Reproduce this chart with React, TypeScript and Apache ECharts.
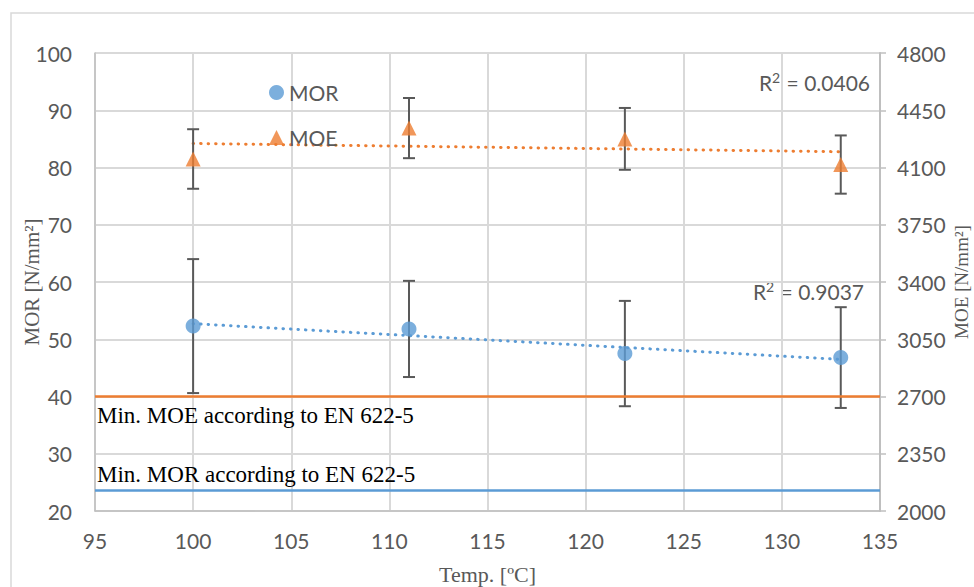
import React, { useEffect, useRef } from "react";
import * as echarts from "echarts";

const TEMPS = [100, 111, 122, 133];
const MOR = [52.3, 51.8, 47.5, 46.8];
const MOR_ERR = [11.7, 8.4, 9.2, 8.8];
const MOE = [4152, 4341, 4275, 4118];
const MOE_ERR = [182, 184, 189, 178];
const MIN_MOR = 23.7;
const MIN_MOE = 2700;
const R2_MOR = "0.9037";
const R2_MOE = "0.0406";

const BLUE = "#5b9bd5";
const ORANGE = "#ed7d31";
const GRAY = "#595959";
const GRID = "#d9d9d9";
const SANS = "Lato";
const SERIF = "Liberation Serif";

function fit(xs: number[], ys: number[]) {
  const n = xs.length;
  const mx = xs.reduce((a, b) => a + b, 0) / n;
  const my = ys.reduce((a, b) => a + b, 0) / n;
  let sxy = 0, sxx = 0;
  for (let i = 0; i < n; i++) {
    sxy += (xs[i] - mx) * (ys[i] - my);
    sxx += (xs[i] - mx) * (xs[i] - mx);
  }
  const b = sxy / sxx;
  const a = my - b * mx;
  const x0 = xs[0], x1 = xs[n - 1];
  return [[x0, a + b * x0], [x1, a + b * x1]];
}

function errRender(params: any, api: any) {
  const x = api.value(0);
  const lo = api.value(1);
  const hi = api.value(2);
  const p1 = api.coord([x, hi]);
  const p2 = api.coord([x, lo]);
  const w = 6;
  const st = { stroke: GRAY, lineWidth: 2 };
  return {
    type: "group",
    children: [
      { type: "line", shape: { x1: p1[0], y1: p1[1], x2: p2[0], y2: p2[1] }, style: st },
      { type: "line", shape: { x1: p1[0] - w, y1: p1[1], x2: p1[0] + w, y2: p1[1] }, style: st },
      { type: "line", shape: { x1: p2[0] - w, y1: p2[1], x2: p2[0] + w, y2: p2[1] }, style: st },
    ],
  };
}

function r2Text(value: string, right: number, top: number) {
  return {
    type: "text",
    right,
    top,
    style: {
      text: `R{sup|2} = ${value}`,
      fill: GRAY,
      font: `21px ${SANS}`,
      lineHeight: 24,
      rich: {
        sup: { fontSize: 14, fontFamily: SANS, fill: GRAY, verticalAlign: "top", lineHeight: 24, padding: [0, 1, 8, 0] },
      },
    },
  };
}

export default function App() {
  const ref = useRef<HTMLDivElement>(null);
  useEffect(() => {
    if (!ref.current) return;
    const chart = echarts.init(ref.current, null, { renderer: "svg" });
    const morPts = TEMPS.map((t, i) => [t, MOR[i]]);
    const moePts = TEMPS.map((t, i) => [t, MOE[i]]);
    const morErr = TEMPS.map((t, i) => [t, MOR[i] - MOR_ERR[i], MOR[i] + MOR_ERR[i]]);
    const moeErr = TEMPS.map((t, i) => [t, MOE[i] - MOE_ERR[i], MOE[i] + MOE_ERR[i]]);
    const axisLabel = { color: GRAY, fontFamily: SANS, fontSize: 21, formatter: (v: number) => String(v) };
    chart.setOption({
      animation: false,
      backgroundColor: "#fff",
      grid: { left: 95, right: 94, top: 53, bottom: 76, outerBoundsMode: "none", containLabel: false },
      legend: {
        data: [
          { name: "MOR", icon: "circle" },
          { name: "MOE", icon: "triangle" },
        ],
        orient: "vertical",
        left: 264,
        top: 77,
        itemWidth: 15,
        itemHeight: 15,
        itemGap: 24,
        textStyle: { color: GRAY, fontFamily: SANS, fontSize: 21 },
      },
      graphic: [
        {
          type: "rect",
          shape: { x: 11, y: 13, width: 1000, height: 700 },
          style: { fill: "none", stroke: GRID, lineWidth: 1.5 },
          silent: true,
          z: -10,
        },
        r2Text(R2_MOE, 104, 70),
        r2Text(R2_MOR, 110, 279),
      ],
      xAxis: {
        type: "value",
        min: 95,
        max: 135,
        interval: 5,
        name: "Temp. [ºC]",
        nameLocation: "middle",
        nameGap: 52,
        nameMoveOverlap: false,
        nameTextStyle: { color: GRAY, fontFamily: SERIF, fontSize: 22 },
        axisLine: { show: true, onZero: false, lineStyle: { color: "#bfbfbf", width: 1.5 } },
        axisTick: { show: false },
        axisLabel: { ...axisLabel, margin: 19 },
        splitLine: { show: true, lineStyle: { color: GRID, width: 2 } },
      },
      yAxis: [
        {
          type: "value",
          min: 20,
          max: 100,
          interval: 10,
          position: "left",
          name: "MOR [N/mm²]",
          nameLocation: "middle",
          nameRotate: 90,
          nameGap: 53,
          nameMoveOverlap: false,
          nameTextStyle: { color: GRAY, fontFamily: SERIF, fontSize: 21 },
          axisLine: { show: true, lineStyle: { color: "#bfbfbf", width: 1.5 } },
          axisTick: { show: false },
          axisLabel: { ...axisLabel, margin: 23 },
          splitLine: { show: true, lineStyle: { color: GRID, width: 2 } },
        },
        {
          type: "value",
          min: 2000,
          max: 4800,
          interval: 350,
          position: "right",
          name: "MOE [N/mm²]",
          nameLocation: "middle",
          nameRotate: 90,
          nameGap: 72,
          nameMoveOverlap: false,
          nameTextStyle: { color: GRAY, fontFamily: SERIF, fontSize: 19 },
          axisLine: { show: true, lineStyle: { color: "#bfbfbf", width: 2 } },
          axisTick: { show: true, length: 6, lineStyle: { color: "#bfbfbf", width: 1.5 } },
          axisLabel: { ...axisLabel, margin: 17 },
          splitLine: { show: false },
        },
      ],
      series: [
        {
          name: "MOR trend",
          type: "line",
          yAxisIndex: 0,
          data: fit(TEMPS, MOR),
          symbol: "none",
          lineStyle: { color: BLUE, width: 3, type: [0.5, 7], cap: "round" },
          z: 2,
        },
        {
          name: "MOE trend",
          type: "line",
          yAxisIndex: 1,
          data: fit(TEMPS, MOE),
          symbol: "none",
          lineStyle: { color: ORANGE, width: 3, type: [0.5, 7], cap: "round" },
          z: 2,
        },
        {
          name: "MOR err",
          type: "custom",
          yAxisIndex: 0,
          renderItem: errRender,
          encode: { x: 0, y: [1, 2] },
          data: morErr,
          z: 3,
        },
        {
          name: "MOE err",
          type: "custom",
          yAxisIndex: 1,
          renderItem: errRender,
          encode: { x: 0, y: [1, 2] },
          data: moeErr,
          z: 3,
        },
        {
          name: "MOR",
          type: "scatter",
          yAxisIndex: 0,
          data: morPts,
          symbol: "circle",
          symbolSize: 15,
          itemStyle: { color: BLUE },
          z: 4,
          markLine: {
            silent: true,
            symbol: "none",
            lineStyle: { color: BLUE, width: 2.5, type: "solid" },
            label: {
              position: "insideStartTop",
              formatter: "Min. MOR according to EN 622-5",
              color: "#000",
              fontFamily: SERIF,
              fontSize: 23,
              distance: [2, 4],
            },
            data: [{ yAxis: MIN_MOR }],
          },
        },
        {
          name: "MOE",
          type: "scatter",
          yAxisIndex: 1,
          data: moePts,
          symbol: "triangle",
          symbolSize: 15,
          itemStyle: { color: ORANGE },
          z: 4,
          markLine: {
            silent: true,
            symbol: "none",
            lineStyle: { color: ORANGE, width: 2.5, type: "solid" },
            label: {
              position: "insideStartBottom",
              formatter: "Min. MOE according to EN 622-5",
              color: "#000",
              fontFamily: SERIF,
              fontSize: 23,
              distance: [2, 7],
            },
            data: [{ yAxis: MIN_MOE }],
          },
        },
      ],
    });
    return () => chart.dispose();
  }, []);
  return (
    <div
      ref={ref}
      style={{ position: "fixed", left: 0, top: 0, width: 974, height: 587 }}
    />
  );
}
